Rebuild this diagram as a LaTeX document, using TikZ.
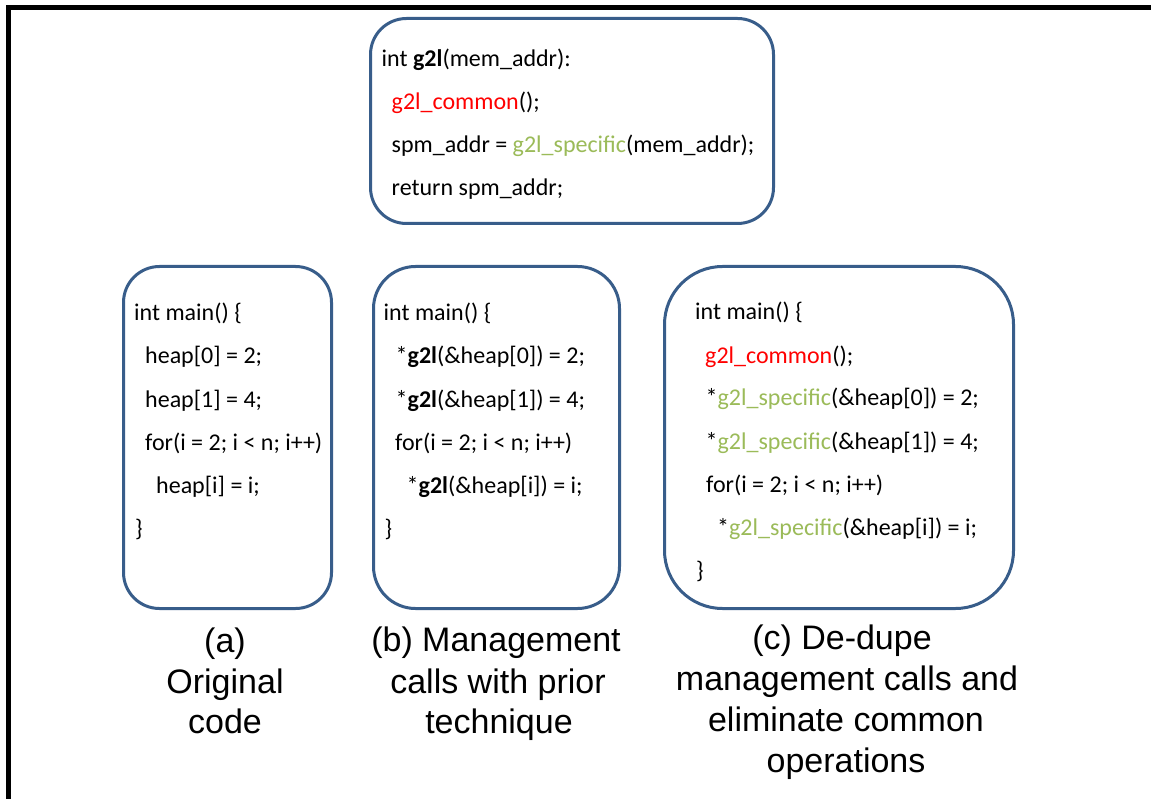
\documentclass[tikz,border=0pt]{standalone}
\usepackage{fontspec}
\setmainfont{Carlito}
\newfontfamily\capfont{Liberation Sans}
\definecolor{boxblue}{HTML}{385D8A}
\definecolor{codered}{HTML}{FF0000}
\definecolor{codegreen}{HTML}{9BBB59}
\tikzset{
  codebox/.style={draw=boxblue, line width=3pt, fill=white, inner sep=0pt, anchor=north west},
  codeline/.style={anchor=base west, inner sep=0pt, font=\fontsize{24}{28}\selectfont},
  capline/.style={anchor=base, inner sep=0pt, font=\capfont\fontsize{34}{40}\selectfont},
}
\newcommand\cred[1]{\textcolor{codered}{#1}}
\newcommand\cgrn[1]{\textcolor{codegreen}{#1}}
\begin{document}
\begin{tikzpicture}[x=1pt,y=-1pt]
\useasboundingbox (0,0) rectangle (1151,799);
\fill[white] (0,0) rectangle (1151,799);
\draw[line width=5pt] (8,799) -- (8,8) -- (1151,8);

% boxes
\node[codebox, rounded corners=36pt, minimum width=403pt, minimum height=205pt] (topbox) at (369,17) {};
\node[codebox, rounded corners=36pt, minimum width=208pt, minimum height=342pt] (boxa) at (122,265) {};
\node[codebox, rounded corners=42pt, minimum width=246pt, minimum height=342pt] (boxb) at (372,265) {};
\node[codebox, rounded corners=58pt, minimum width=349pt, minimum height=342pt] (boxc) at (663,265) {};

% top box text
\node[codeline] (t1) at (381.5,66.5) {int \textbf{g2l}(mem\_addr):};
\node[codeline] (t2) at (391.5,109.5) {\cred{g2l\_common}();};
\node[codeline] (t3) at (391.5,152.5) {spm\_addr = \cgrn{g2l\_specific}(mem\_addr);};
\node[codeline] (t4) at (391.5,195.5) {return spm\_addr;};

% box a text
\node[codeline] (a1) at (134,321) {int main() \{};
\node[codeline] (a2) at (145,364) {heap[0] = 2;};
\node[codeline] (a3) at (145,407) {heap[1] = 4;};
\node[codeline] (a4) at (145,450) {for(i = 2; i < n; i++)};
\node[codeline] (a5) at (156,493) {heap[i] = i;};
\node[codeline] (a6) at (135,536) {\}};

% box b text
\node[codeline] (b1) at (383.5,321) {int main() \{};
\node[codeline] (b2) at (395.5,364) {*\textbf{g2l}(\&heap[0]) = 2;};
\node[codeline] (b3) at (395.5,407) {*\textbf{g2l}(\&heap[1]) = 4;};
\node[codeline] (b4) at (395,450) {for(i = 2; i < n; i++)};
\node[codeline] (b5) at (406.5,493) {*\textbf{g2l}(\&heap[i]) = i;};
\node[codeline] (b6) at (384.5,536) {\}};

% box c text
\node[codeline] (c1) at (695,320) {int main() \{};
\node[codeline] (c2) at (705,363) {\cred{g2l\_common}();};
\node[codeline] (c3) at (705.5,406) {*\cgrn{g2l\_specific}(\&heap[0]) = 2;};
\node[codeline] (c4) at (705.5,449) {*\cgrn{g2l\_specific}(\&heap[1]) = 4;};
\node[codeline] (c5) at (706,492) {for(i = 2; i < n; i++)};
\node[codeline] (c6) at (717,535) {*\cgrn{g2l\_specific}(\&heap[i]) = i;};
\node[codeline] (c7) at (696,578) {\}};

% captions
\node[capline] (ca1) at (225,652) {(a)};
\node[capline] (ca2) at (225,693) {Original};
\node[capline] (ca3) at (225,733) {code};

\node[capline] (cb1) at (496,651) {(b) Management};
\node[capline] (cb2) at (498,693) {calls with prior};
\node[capline] (cb3) at (499,733) {technique};

\node[capline] (cc1) at (842,649) {(c) De-dupe};
\node[capline] (cc2) at (847,690) {management calls and};
\node[capline] (cc3) at (846,731) {eliminate common};
\node[capline] (cc4) at (846,772) {operations};
\end{tikzpicture}
\end{document}
